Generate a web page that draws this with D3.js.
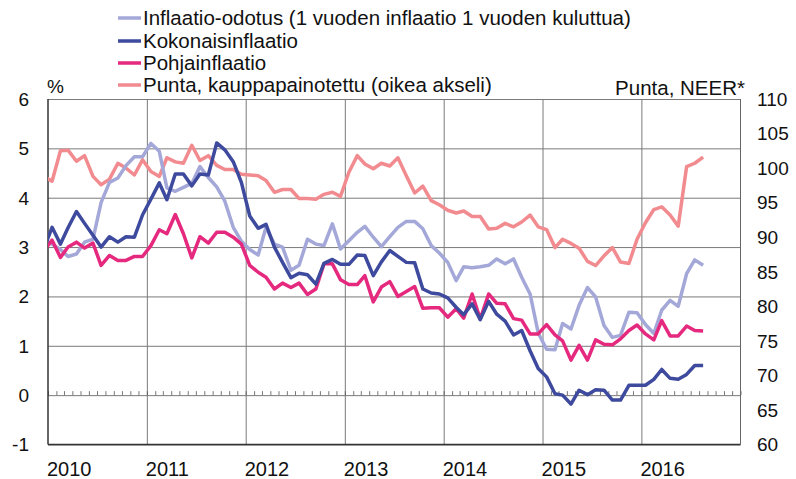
<!DOCTYPE html>
<html>
<head>
<meta charset="utf-8">
<script src="https://cdn.jsdelivr.net/npm/d3@7"></script>
<style>
  body { margin: 0; background: #fff; }
  svg { display: block; font-family: "Liberation Sans", Arial, sans-serif; }
</style>
</head>
<body>
<svg id="chart"></svg>
<script>
// monthly data, Dec 2009 .. Aug 2016 (first point is clipped at the axis)
var startMonth = new Date(2009, 11, 1);

var odotus = [3.1, 3.06, 2.95, 2.81, 2.86, 3.1, 3.16, 3.9, 4.31, 4.4, 4.65, 4.83, 4.83,
  5.1, 4.94, 4.2, 4.13, 4.21, 4.29, 4.63, 4.41, 4.22, 3.93, 3.4, 3.12,
  2.95, 2.84, 3.4, 3.06, 3.0, 2.53, 2.63, 3.16, 3.06, 3.03, 3.47, 2.96,
  3.13, 3.3, 3.42, 3.2, 3.01, 3.21, 3.4, 3.52, 3.52, 3.37, 3.03, 2.88,
  2.69, 2.32, 2.6, 2.58, 2.6, 2.63, 2.76, 2.66, 2.76, 2.39, 2.05, 1.26,
  0.93, 0.92, 1.45, 1.34, 1.82, 2.18, 1.99, 1.41, 1.17, 1.21, 1.68, 1.67,
  1.43, 1.25, 1.72, 1.92, 1.8, 2.46, 2.74, 2.63];

var kokonais = [2.95, 3.4, 3.06, 3.39, 3.72, 3.48, 3.24, 3.0, 3.21, 3.1, 3.21, 3.2, 3.65,
  3.97, 4.3, 3.96, 4.48, 4.48, 4.24, 4.48, 4.46, 5.11, 4.97, 4.73, 4.31,
  3.63, 3.38, 3.46, 3.0, 2.69, 2.38, 2.47, 2.44, 2.25, 2.67, 2.75, 2.65,
  2.65, 2.84, 2.83, 2.42, 2.7, 2.93, 2.81, 2.69, 2.68, 2.15, 2.07, 2.05,
  1.97, 1.78, 1.63, 1.85, 1.53, 1.9, 1.64, 1.5, 1.22, 1.31, 0.9, 0.54,
  0.37, 0.03, 0.0, -0.18, 0.1, 0.01, 0.11, 0.1, -0.1, -0.1, 0.2, 0.2,
  0.2, 0.32, 0.52, 0.34, 0.32, 0.42, 0.6, 0.6];

var pohja = [2.92, 3.14, 2.79, 3.0, 3.1, 2.98, 3.08, 2.63, 2.83, 2.73, 2.73, 2.81, 2.81,
  3.03, 3.35, 3.27, 3.66, 3.27, 2.78, 3.21, 3.08, 3.3, 3.3, 3.2, 3.06,
  2.63, 2.49, 2.39, 2.15, 2.27, 2.18, 2.27, 2.04, 2.15, 2.66, 2.66, 2.34,
  2.24, 2.24, 2.42, 1.89, 2.19, 2.3, 2.0, 2.1, 2.2, 1.76, 1.77, 1.77,
  1.58, 1.75, 1.56, 2.05, 1.54, 2.05, 1.86, 1.85, 1.55, 1.52, 1.24, 1.24,
  1.43, 1.22, 1.1, 0.71, 1.01, 0.71, 1.12, 1.03, 1.02, 1.14, 1.31, 1.42,
  1.24, 1.12, 1.51, 1.2, 1.2, 1.4, 1.31, 1.3];

var punta = [98.8, 98.1, 102.5, 102.6, 101.0, 101.8, 98.8, 97.6, 98.4, 100.7, 100.0, 99.0, 101.2,
  99.5, 98.8, 101.5, 100.9, 100.7, 103.3, 101.1, 101.8, 100.4, 99.8, 99.8, 99.1,
  99.0, 98.9, 98.2, 96.5, 96.9, 96.9, 95.6, 95.6, 95.5, 96.2, 96.5, 95.9,
  99.4, 101.8, 100.6, 99.9, 100.7, 100.3, 101.5, 98.9, 96.4, 97.4, 95.3, 94.7,
  93.9, 93.5, 93.8, 93.0, 93.0, 91.2, 91.3, 92.0, 91.5, 92.2, 93.2, 91.5,
  91.1, 88.5, 89.7, 89.1, 88.4, 86.5, 85.9, 87.3, 88.5, 86.4, 86.2, 89.7,
  92.1, 94.0, 94.4, 93.2, 91.6, 100.2, 100.7, 101.6];

var leftTicks = [-1, 0, 1, 2, 3, 4, 5, 6];
var rightTicks = [60, 65, 70, 75, 80, 85, 90, 95, 100, 105, 110];
var years = [2010, 2011, 2012, 2013, 2014, 2015, 2016];

var seriesNames = ["Inflaatio-odotus (1 vuoden inflaatio 1 vuoden kuluttua)",
  "Kokonaisinflaatio", "Pohjainflaatio", "Punta, kauppapainotettu (oikea akseli)"];
var seriesColors = ["#a4a8d8", "#3e4a9d", "#e5297e", "#f28b8f"];

var width = 796,
  height = 479;
var pLeft = 48, pRight = 740.5, pTop = 99, pBottom = 444.5;

var svg = d3.select("#chart").attr("width", width).attr("height", height);

var x = d3.scaleTime()
  .domain([new Date(2010, 0, 1), new Date(2017, 0, 1)])
  .range([pLeft, pRight]);
var y = d3.scaleLinear().domain([-1, 6]).range([pBottom, pTop]);
var y2 = d3.scaleLinear().domain([60, 110]).range([pBottom, pTop]);

// mid-month positions
function monthDate(i) {
  return new Date(startMonth.getFullYear(), startMonth.getMonth() + i, 16);
}

svg.append("clipPath").attr("id", "plotclip")
  .append("rect")
  .attr("x", pLeft).attr("y", pTop - 5)
  .attr("width", pRight - pLeft).attr("height", pBottom - pTop + 10);

// horizontal grid
svg.append("g")
  .attr("transform", "translate(" + pLeft + ",0)")
  .call(d3.axisLeft(y).tickValues(leftTicks).tickSize(-(pRight - pLeft)).tickFormat(""))
  .call(function(g) {
    g.select(".domain").remove();
    g.selectAll("line").attr("stroke", "#7a7a7a").attr("stroke-width", 1);
  });

// vertical grid at year boundaries
svg.append("g")
  .attr("transform", "translate(0," + pBottom + ")")
  .call(d3.axisBottom(x).tickValues(years.slice(1).map(function(yr) { return new Date(yr, 0, 1); }))
    .tickSize(-(pBottom - pTop)).tickFormat(""))
  .call(function(g) {
    g.select(".domain").remove();
    g.selectAll("line").attr("stroke", "#7a7a7a").attr("stroke-width", 1);
  });

// small month ticks on the zero line
svg.append("g")
  .attr("transform", "translate(0," + y(0) + ")")
  .call(d3.axisTop(x).ticks(d3.timeMonth.every(1)).tickSize(4).tickFormat(""))
  .call(function(g) {
    g.select(".domain").remove();
    g.selectAll("line").attr("stroke", "#555").attr("stroke-width", 0.8);
  });

// frame
svg.append("line")
  .attr("x1", pLeft).attr("x2", pLeft).attr("y1", pTop).attr("y2", pBottom)
  .attr("stroke", "#333").attr("stroke-width", 1.5);
svg.append("line")
  .attr("x1", pLeft).attr("x2", pRight).attr("y1", pBottom).attr("y2", pBottom)
  .attr("stroke", "#333").attr("stroke-width", 1.5);
svg.append("line")
  .attr("x1", pRight).attr("x2", pRight).attr("y1", pTop).attr("y2", pBottom)
  .attr("stroke", "#666").attr("stroke-width", 1);

// tick labels
svg.append("g").selectAll("text").data(leftTicks)
  .enter().append("text")
  .attr("x", 29).attr("y", function(d) { return y(d); })
  .attr("dy", "0.36em")
  .attr("text-anchor", "end")
  .attr("font-size", 19).attr("fill", "#111")
  .text(function(d) { return d; });

svg.append("g").selectAll("text").data(rightTicks)
  .enter().append("text")
  .attr("x", 757).attr("y", function(d) { return y2(d); })
  .attr("dy", "0.36em")
  .attr("font-size", 19).attr("fill", "#111")
  .text(function(d) { return d; });

svg.append("g").selectAll("text").data(years)
  .enter().append("text")
  .attr("x", function(d) { return x(new Date(d, 0, 1)) - 1; })
  .attr("y", 476)
  .attr("font-size", 20).attr("fill", "#111")
  .text(function(d) { return d; });

svg.append("text").attr("x", 47).attr("y", 93)
  .attr("font-size", 19).attr("fill", "#111").text("%");
svg.append("text").attr("x", 745).attr("y", 95)
  .attr("text-anchor", "end")
  .attr("font-size", 20.5).attr("fill", "#111").text("Punta, NEER*");

// lines
var series = [
  { values: odotus, scale: y },
  { values: kokonais, scale: y },
  { values: pohja, scale: y },
  { values: punta, scale: y2 }
];
// draw order: punta behind, then odotus, pohja, kokonais
var order = [3, 0, 2, 1];

var plot = svg.append("g").attr("clip-path", "url(#plotclip)");
order.forEach(function(k) {
  var s = series[k];
  var line = d3.line()
    .x(function(d, i) { return x(monthDate(i)); })
    .y(function(d) { return s.scale(d); });
  plot.append("path")
    .attr("d", line(s.values))
    .attr("fill", "none")
    .attr("stroke", seriesColors[k])
    .attr("stroke-width", 3.5)
    .attr("stroke-linejoin", "round");
});

// legend
var legend = svg.append("g");
var legendY = [18, 41, 63, 85];
seriesNames.forEach(function(name, k) {
  legend.append("line")
    .attr("x1", 118).attr("x2", 141)
    .attr("y1", legendY[k]).attr("y2", legendY[k])
    .attr("stroke", seriesColors[k]).attr("stroke-width", 3.5);
  legend.append("text")
    .attr("x", 143).attr("y", legendY[k])
    .attr("dy", "0.36em")
    .attr("font-size", 20.5).attr("fill", "#111")
    .text(name);
});
</script>
</body>
</html>
